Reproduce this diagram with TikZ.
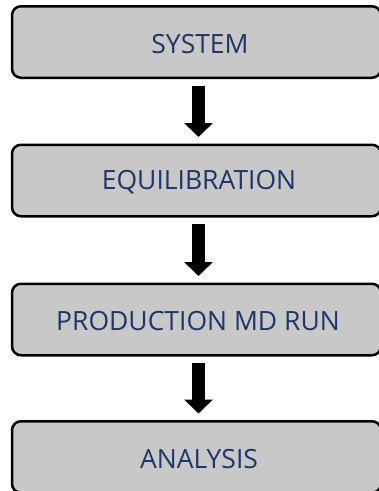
\documentclass[tikz,border=0pt]{standalone}
\usepackage{fontspec}
\setmainfont{Open Sans}
\usetikzlibrary{arrows.meta}
\definecolor{boxfill}{RGB}{200,200,200}
\definecolor{boxtext}{RGB}{30,54,104}
\begin{document}
\begin{tikzpicture}[x=1pt,y=-1pt,
  stagebox/.style={draw=black, line width=2.5pt, fill=boxfill, rounded corners=9pt,
    minimum width=369pt, minimum height=71.5pt, inner sep=0pt},
  stagetext/.style={text=boxtext, font=\fontsize{26.5}{30}\selectfont, inner sep=0pt},
  flowarrow/.style={line width=13pt, -{Triangle[width=28pt,length=14pt]},
    shorten <=6.5pt, shorten >=6.5pt}]
\useasboundingbox (0,0) rectangle (379,491);
\begin{scope}
\clip (0,0) rectangle (379,491);
\node[stagebox] (sys) at (196.5,42) {};
\node[stagebox] (equ) at (196.5,180.5) {};
\node[stagebox] (prod) at (196.5,319.5) {};
\node[stagebox] (ana) at (196.5,457) {};
\end{scope}
\node[stagetext] (t1) at (200,44) {SYSTEM};
\node[stagetext] (t2) at (199,182) {EQUILIBRATION};
\node[stagetext] (t3) at (198,321) {PRODUCTION MD RUN};
\node[stagetext] (t4) at (199,459) {ANALYSIS};
\draw[flowarrow] ([xshift=2pt]sys.south) -- ([xshift=2pt]equ.north);
\draw[flowarrow] ([xshift=2pt]equ.south) -- ([xshift=2pt]prod.north);
\draw[flowarrow] ([xshift=2pt]prod.south) -- ([xshift=2pt]ana.north);
\end{tikzpicture}
\end{document}
